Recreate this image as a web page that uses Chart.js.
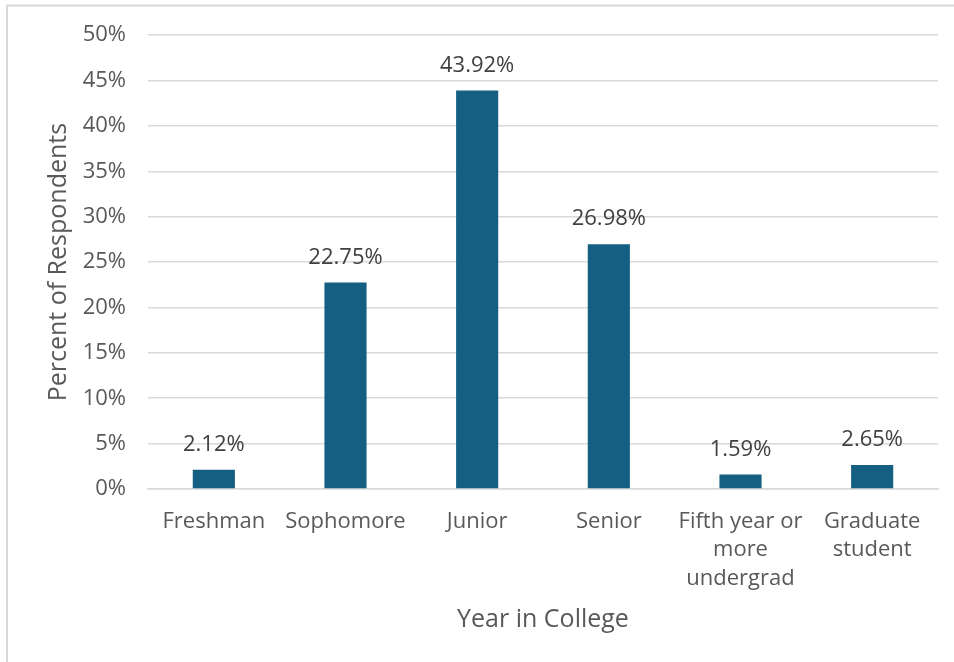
<!DOCTYPE html>
<html>
<head>
<meta charset="utf-8">
<script src="https://cdn.jsdelivr.net/npm/chart.js@4"></script>
<style>
html,body{margin:0;padding:0;background:#fff;}
#wrap{position:relative;width:954px;height:662px;}
canvas{display:block;}
</style>
</head>
<body>
<div id="wrap"><canvas id="c" width="954" height="662"></canvas></div>
<script>
const categories = [["Freshman"], ["Sophomore"], ["Junior"], ["Senior"], ["Fifth year or", "more", "undergrad"], ["Graduate", "student"]];
const percentValues = [2.12, 22.75, 43.92, 26.98, 1.59, 2.65];
const yTickValues = [0, 5, 10, 15, 20, 25, 30, 35, 40, 45, 50];

const FONT = "'Open Sans', 'Liberation Sans', sans-serif";

const frame = {
  id: 'frame',
  beforeDraw(chart) {
    const ctx = chart.ctx;
    ctx.save();
    ctx.strokeStyle = '#d9d9d9';
    ctx.lineWidth = 2;
    ctx.beginPath();
    ctx.moveTo(7, 700);
    ctx.lineTo(7, 5.5);
    ctx.lineTo(1000, 5.5);
    ctx.stroke();
    ctx.restore();
  }
};

const dataLabels = {
  id: 'dataLabels',
  afterDatasetsDraw(chart) {
    const ctx = chart.ctx;
    const meta = chart.getDatasetMeta(0);
    ctx.save();
    ctx.font = "22px " + FONT;
    ctx.fillStyle = '#404040';
    ctx.textAlign = 'center';
    ctx.textBaseline = 'middle';
    meta.data.forEach((bar, i) => {
      ctx.fillText(percentValues[i].toFixed(2) + '%', bar.x, bar.y - 25);
    });
    ctx.restore();
  }
};

new Chart(document.getElementById('c'), {
  type: 'bar',
  data: {
    labels: categories,
    datasets: [{
      data: percentValues,
      backgroundColor: '#156082',
      borderWidth: 0,
      barPercentage: 0.64,
      categoryPercentage: 0.5
    }]
  },
  options: {
    responsive: false,
    animation: false,
    devicePixelRatio: 1,
    layout: { padding: { left: 0, right: 16, top: 34, bottom: 0 } },
    plugins: { legend: { display: false }, tooltip: { enabled: false } },
    scales: {
      x: {
        afterFit: s => { s.height = 662 - 489; },
        grid: { display: false, drawTicks: false },
        border: { display: true, color: '#d9d9d9', width: 1.5 },
        ticks: {
          color: '#595959',
          font: { family: FONT, size: 22, lineHeight: 1.3 },
          padding: 18,
          maxRotation: 0,
          autoSkip: false
        },
        title: {
          display: true,
          text: 'Year in College',
          color: '#595959',
          font: { family: FONT, size: 25 },
          padding: { top: 0, bottom: 27 }
        }
      },
      y: {
        min: 0,
        max: 50,
        afterFit: s => { s.width = 148; },
        afterBuildTicks: s => { s.ticks = yTickValues.map(v => ({ value: v })); },
        grid: { color: '#d9d9d9', lineWidth: 1.5, drawTicks: false },
        border: { display: false },
        ticks: {
          color: '#595959',
          font: { family: FONT, size: 22 },
          padding: 22,
          callback: v => v + '%'
        },
        title: {
          display: true,
          text: 'Percent of Respondents',
          color: '#595959',
          font: { family: FONT, size: 25 },
          padding: { top: 44, bottom: 0 }
        }
      }
    }
  },
  plugins: [frame, dataLabels]
});
</script>
</body>
</html>
